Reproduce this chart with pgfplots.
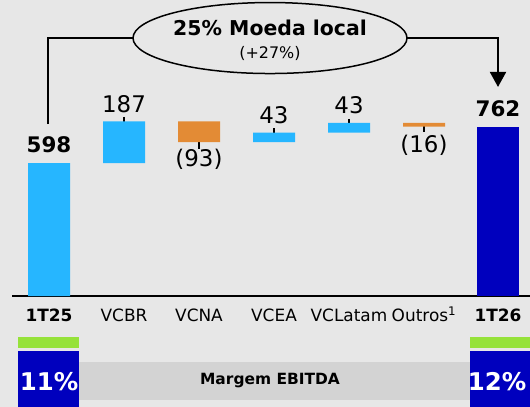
\documentclass[border=0pt]{standalone}
\usepackage{pgfplots}
\pgfplotsset{compat=1.18}
\usepackage{fontspec}
\setmainfont{DejaVu Sans}
\usetikzlibrary{arrows.meta}
\definecolor{bg}{HTML}{E7E7E7}
\definecolor{lblue}{HTML}{26B6FF}
\definecolor{orng}{HTML}{E38B35}
\definecolor{dblue}{HTML}{0000BE}
\definecolor{lgreen}{HTML}{96E23A}
\definecolor{band}{HTML}{D3D3D3}
\tikzset{val/.style={font=\fontsize{23}{25}\selectfont}}

\begin{document}
\begin{tikzpicture}
% background, 530 x 407
\fill[bg] (-12bp,-111bp) rectangle (518bp,296bp);
\path[use as bounding box] (-12bp,-111bp) rectangle (518bp,296bp);
\begin{axis}[
  scale only axis, width=518bp, height=296bp,
  xmin=12, xmax=530, ymin=0, ymax=1331,
  clip=false,
  ybar stacked, bar width=42bp,
  axis x line*=bottom, axis y line=none,
  axis line style={black, line width=1.5bp, -},
  xtick={49,124,199,274,349,424,498},
  xticklabels={\textbf{1T25},VCBR,VCNA,VCEA,VCLatam,Outros\textsuperscript{1},\textbf{1T26}},
  major tick length=0pt,
  xticklabel style={font=\fontsize{17}{19}\selectfont, text height=12bp, text depth=3bp, yshift=-10bp},
]
% invisible base of the floating bars
\addplot[draw=none, fill=none] coordinates {(49,0) (124,598) (199,692) (274,692) (349,735) (424,762) (498,0)};
\addplot[draw=none, fill=lblue] coordinates {(49,598) (124,187) (199,0) (274,43) (349,43) (424,0) (498,0)};
\addplot[draw=none, fill=orng] coordinates {(49,0) (124,0) (199,93) (274,0) (349,0) (424,16) (498,0)};
\addplot[draw=none, fill=dblue] coordinates {(49,0) (124,0) (199,0) (274,0) (349,0) (424,0) (498,762)};

% label leaders
\draw[line width=1.3bp] (axis cs:124,805) -- (axis cs:124,715);
\draw[line width=1.3bp] (axis cs:199,737) -- (axis cs:199,660);
\draw[line width=1.3bp] (axis cs:274,755) -- (axis cs:274,715);
\draw[line width=1.3bp] (axis cs:349,796) -- (axis cs:349,755);
\draw[line width=1.3bp] (axis cs:424,773) -- (axis cs:424,737);

\node[val] at (axis cs:124,863) {187};
\node[val] at (axis cs:199,616) {(93)};
\node[val] at (axis cs:274,812) {43};
\node[val] at (axis cs:349,858) {43};
\node[val] at (axis cs:424,676) {(16)};
\node[font=\fontsize{21.5}{24}\selectfont\bfseries] at (axis cs:49,679) {598};
\node[font=\fontsize{21.5}{24}\selectfont\bfseries] at (axis cs:498,843) {762};

% growth bubble
\draw[line width=2bp] (axis cs:48,773) |- (axis cs:133,1160);
\draw[line width=2bp, -{Triangle[width=16bp,length=15bp]}] (axis cs:407,1160) -| (axis cs:498,940);
\draw[line width=1.5bp, fill=bg] (axis cs:270,1160) ellipse [x radius=137bp, y radius=35.5bp]
  node[at={(axis cs:270,1205)}, text=black, font=\fontsize{20.5}{22}\selectfont\bfseries] {25\% Moeda local}
  node[at={(axis cs:270,1090)}, text=black, font=\fontsize{16}{18}\selectfont] {(+27\%)};

% EBITDA margin strip
\fill[lgreen] (axis cs:18,-184) rectangle (axis cs:79,-234);
\fill[lgreen] (axis cs:470,-184) rectangle (axis cs:530,-234);
\fill[band] (axis cs:79,-297) rectangle (axis cs:470,-468)
  node[at={(axis cs:270,-380)}, text=black, font=\fontsize{15.5}{18}\selectfont\bfseries] {Margem EBITDA};
\fill[dblue] (axis cs:18,-247) rectangle (axis cs:79,-499)
  node[at={(axis cs:49,-385)}, text=white, font=\fontsize{24.5}{26}\selectfont\bfseries] {11\%};
\fill[dblue] (axis cs:470,-247) rectangle (axis cs:530,-499)
  node[at={(axis cs:497,-385)}, text=white, font=\fontsize{24.5}{26}\selectfont\bfseries] {12\%};
\end{axis}
\end{tikzpicture}
\end{document}
